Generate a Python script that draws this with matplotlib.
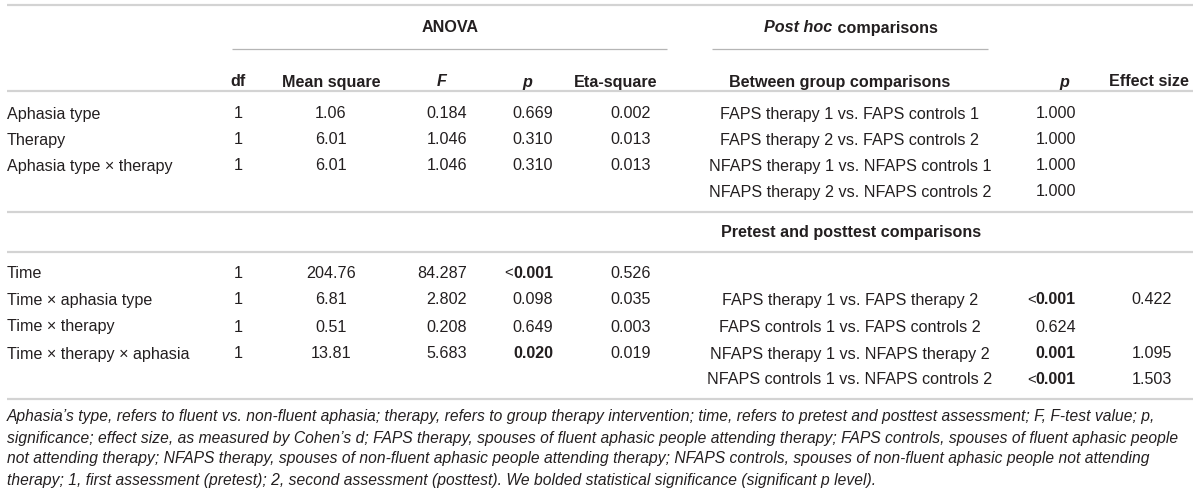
import matplotlib
matplotlib.use("Agg")
import matplotlib.pyplot as plt

# ---------------- data ----------------
group_headers = ["ANOVA", "Post hoc comparisons"]
col_headers = ["df", "Mean square", "F", "p", "Eta-square",
               "Between group comparisons", "p", "Effect size"]

anova_terms_1 = ["Aphasia type", "Therapy", "Aphasia type × therapy"]
df_1 = [1, 1, 1]
ms_1 = ["1.06", "6.01", "6.01"]
f_1 = ["0.184", "1.046", "1.046"]
p_1 = ["0.669", "0.310", "0.310"]
eta_1 = ["0.002", "0.013", "0.013"]

between_comp = ["FAPS therapy 1 vs. FAPS controls 1",
                "FAPS therapy 2 vs. FAPS controls 2",
                "NFAPS therapy 1 vs. NFAPS controls 1",
                "NFAPS therapy 2 vs. NFAPS controls 2"]
between_p = ["1.000", "1.000", "1.000", "1.000"]
between_es = ["", "", "", ""]

prepost_header = "Pretest and posttest comparisons"

anova_terms_2 = ["Time", "Time × aphasia type", "Time × therapy",
                 "Time × therapy × aphasia"]
df_2 = [1, 1, 1, 1]
ms_2 = ["204.76", "6.81", "0.51", "13.81"]
f_2 = ["84.287", "2.802", "0.208", "5.683"]
p_2 = ["<0.001", "0.098", "0.649", "0.020"]
eta_2 = ["0.526", "0.035", "0.003", "0.019"]

prepost_comp = ["FAPS therapy 1 vs. FAPS therapy 2",
                "FAPS controls 1 vs. FAPS controls 2",
                "NFAPS therapy 1 vs. NFAPS therapy 2",
                "NFAPS controls 1 vs. NFAPS controls 2"]
prepost_p = ["<0.001", "0.624", "0.001", "<0.001"]
prepost_es = ["0.422", "", "1.095", "1.503"]

caption_lines = [
    "Aphasia\u2019s type, refers to fluent vs. non-fluent aphasia; therapy, refers to group therapy intervention; time, refers to pretest and posttest assessment; F, F-test value; p,",
    "significance; effect size, as measured by Cohen\u2019s d; FAPS therapy, spouses of fluent aphasic people attending therapy; FAPS controls, spouses of fluent aphasic people",
    "not attending therapy; NFAPS therapy, spouses of non-fluent aphasic people attending therapy; NFAPS controls, spouses of non-fluent aphasic people not attending",
    "therapy; 1, first assessment (pretest); 2, second assessment (posttest). We bolded statistical significance (significant p level).",
]

# ---------------- layout ----------------
FONT = "Liberation Sans"
FS = 11.6
CAP_FS = 11.25
TXT = "#231f20"
plt.rcParams["font.family"] = [FONT, "DejaVu Sans"]

fig = plt.figure(figsize=(12, 4.93), dpi=100)
ax = fig.add_axes([0, 0, 1, 1])
ax.set_xlim(0, 1200)
ax.set_ylim(493, 0)
ax.axis("off")
renderer = fig.canvas.get_renderer()

BASE = 5.5  # baseline offset from visual centre


def txt(x, y, s, ha="center", bold=False, italic=False, size=FS):
    return ax.text(x, y + BASE, s, ha=ha, va="baseline", fontsize=size,
                   color=TXT, fontweight="bold" if bold else "normal",
                   fontstyle="italic" if italic else "normal")


def is_sig(s):
    return s.startswith("<") or float(s) < 0.05


def pval(x, y, s):
    """right aligned p value; bold if significant, '<' kept regular"""
    if not s:
        return
    if s.startswith("<"):
        t = txt(x, y, s[1:], ha="right", bold=True)
        bb = t.get_window_extent(renderer).transformed(ax.transData.inverted())
        left = min(bb.x0, bb.x1)
        txt(left + 0.5, y, "<", ha="right", size=FS * 0.92)
    else:
        txt(x, y, s, ha="right", bold=is_sig(s))


# column positions
X_LABEL = 7
X_DF = 238
X_MS = 331
X_F = 467
X_P = 553
X_ETA = 631
X_COMP = 850
X_P2 = 1076
X_ES = 1172

# rules
full_kw = dict(color="#d3d3d3", linewidth=1.6)
ax.hlines([5, 91, 212, 252, 399], 7, 1193, **full_kw)
ax.hlines([49], 232, 667, color="#b5b5b5", linewidth=0.9)
ax.hlines([49], 712, 988, color="#b5b5b5", linewidth=0.9)

# group headers
txt(450, 27, group_headers[0], bold=True)
t1 = ax.text(0, 0, "Post hoc", fontsize=FS, fontweight="bold", fontstyle="italic")
t2 = ax.text(0, 0, " comparisons", fontsize=FS, fontweight="bold")
w1 = t1.get_window_extent(renderer).width
w2 = t2.get_window_extent(renderer).width
t1.remove(); t2.remove()
start = 851 - (w1 + w2) / 2
txt(start, 27, "Post hoc", ha="left", bold=True, italic=True)
txt(start + w1, 27, " comparisons", ha="left", bold=True)

# column headers
hx = [X_DF, X_MS, 442, 527, 616, 840, 1064, 1149]
hit = [False, False, True, True, False, False, True, False]
for x, s, it in zip(hx, col_headers, hit):
    txt(x, 81, s, bold=True, italic=it)

# upper block
rows_up = [113, 139, 165, 191]
for i, y in enumerate(rows_up):
    if i < len(anova_terms_1):
        txt(X_LABEL, y, anova_terms_1[i], ha="left")
        txt(X_DF, y, str(df_1[i]))
        txt(X_MS, y, ms_1[i])
        txt(X_F, y, f_1[i], ha="right")
        pval(X_P, y, p_1[i])
        txt(X_ETA, y, eta_1[i])
    txt(X_COMP, y, between_comp[i])
    pval(X_P2, y, between_p[i])
    if between_es[i]:
        txt(X_ES, y, between_es[i], ha="right")

# pretest/posttest header
txt(851, 232, prepost_header, bold=True)

# lower block
rows_lo = [272, 299, 326, 353, 379]
for i, y in enumerate(rows_lo):
    if i < len(anova_terms_2):
        txt(X_LABEL, y, anova_terms_2[i], ha="left")
        txt(X_DF, y, str(df_2[i]))
        txt(X_MS, y, ms_2[i])
        txt(X_F, y, f_2[i], ha="right")
        pval(X_P, y, p_2[i])
        txt(X_ETA, y, eta_2[i])
    if i >= 1:
        j = i - 1
        txt(X_COMP, y, prepost_comp[j])
        pval(X_P2, y, prepost_p[j])
        if prepost_es[j]:
            txt(X_ES, y, prepost_es[j], ha="right")

# caption
for y, line in zip([416, 437, 458, 479], caption_lines):
    txt(X_LABEL, y, line, ha="left", italic=True, size=CAP_FS)

fig.savefig("out.png", dpi=100, facecolor="white")
